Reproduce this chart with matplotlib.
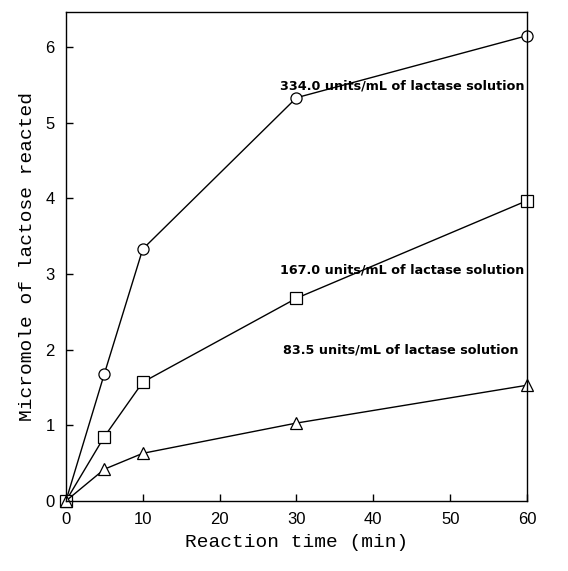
#!/usr/bin/env python3

import numpy as np
import matplotlib.pyplot as plt

time = [ 0, 5, 10, 30, 60 ]
high = [ 0.0, 1.68, 3.33, 5.33, 6.15 ]
mid  = [ 0.0, 0.85, 1.57, 2.68, 3.97 ]
low  = [ 0.0, 0.42, 0.63, 1.03, 1.53 ]

labels = [ '334.0 units/mL of lactase solution',
           '167.0 units/mL of lactase solution',
           '83.5 units/mL of lactase solution' ]
labelPos = [ ( 27.8, 5.48 ), ( 27.8, 3.05 ), ( 28.2, 2.0 ) ]

xTicks = [ 0, 10, 20, 30, 40, 50, 60 ]
yTicks = [ 0, 1, 2, 3, 4, 5, 6 ]

fig = plt.figure( figsize = ( 5.68, 5.71 ), dpi = 100 )
ax = fig.add_axes( [ 0.116, 0.1226, 0.812, 0.856 ] )

for y, m in zip( [ high, mid, low ], [ 'o', 's', '^' ] ):
    ax.plot( time, y, color = 'k', lw = 1.0, marker = m, ms = 8,
             mfc = 'white', mec = 'k', mew = 0.9, clip_on = False )

for lab, ( xx, yy ) in zip( labels, labelPos ):
    ax.text( xx, yy, lab, fontsize = 9.2, fontweight = 'bold',
             family = 'DejaVu Sans', va = 'center', ha = 'left' )

ax.set_xlim( 0, 60 )
ax.set_ylim( 0, 6.46 )
ax.set_xticks( xTicks )
ax.set_yticks( yTicks )
ax.tick_params( direction = 'in', length = 5, width = 1.0,
                labelsize = 12, pad = 8 )
for t in ax.get_xticklabels() + ax.get_yticklabels():
    t.set_family( 'Liberation Sans' )
for s in ax.spines.values():
    s.set_linewidth( 1.0 )

ax.set_xlabel( 'Reaction time (min)', family = 'Liberation Mono',
               fontsize = 14, labelpad = 5 )
ax.set_ylabel( 'Micromole of lactose reacted', family = 'Liberation Mono',
               fontsize = 14, labelpad = 7 )

plt.savefig( 'out.png', dpi = 100 )
plt.close()
